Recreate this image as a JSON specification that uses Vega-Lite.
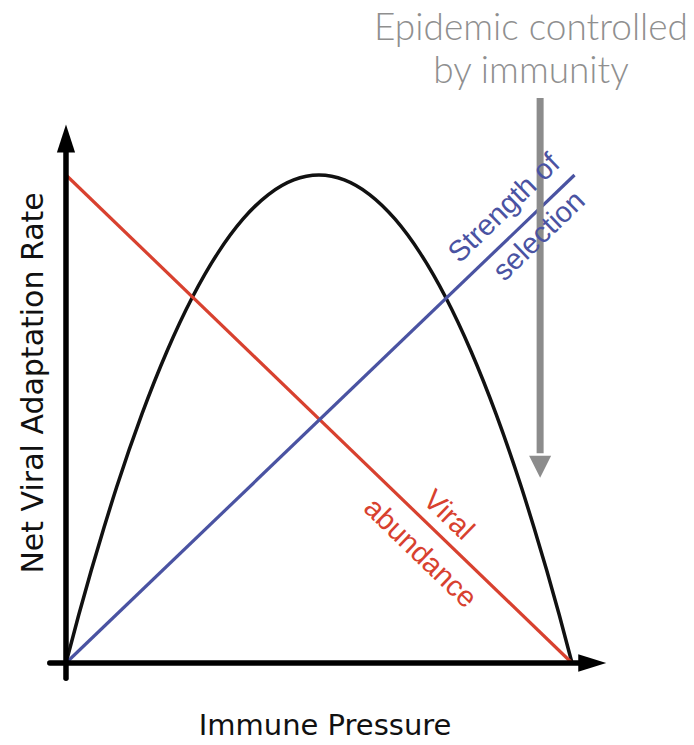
{
  "$schema": "https://vega.github.io/schema/vega-lite/v6.json",
  "width": 694,
  "height": 745,
  "autosize": "none",
  "padding": 0,
  "background": "white",
  "config": {"view": {"stroke": null}},
  "datasets": {
    "curves": [
      {"series": "abundance", "x": 0, "y": 100},
      {"series": "abundance", "x": 100, "y": 0},
      {"series": "selection", "x": 0, "y": 0},
      {"series": "selection", "x": 100.5, "y": 100},
      {"series": "rate", "x": 0, "y": 0},
      {"series": "rate", "x": 2.5, "y": 9.8},
      {"series": "rate", "x": 5, "y": 19},
      {"series": "rate", "x": 7.5, "y": 27.7},
      {"series": "rate", "x": 10, "y": 36},
      {"series": "rate", "x": 15, "y": 51},
      {"series": "rate", "x": 20, "y": 64},
      {"series": "rate", "x": 25, "y": 75},
      {"series": "rate", "x": 30, "y": 84},
      {"series": "rate", "x": 35, "y": 91},
      {"series": "rate", "x": 40, "y": 96},
      {"series": "rate", "x": 45, "y": 99},
      {"series": "rate", "x": 50, "y": 100},
      {"series": "rate", "x": 55, "y": 99},
      {"series": "rate", "x": 60, "y": 96},
      {"series": "rate", "x": 65, "y": 91},
      {"series": "rate", "x": 70, "y": 84},
      {"series": "rate", "x": 75, "y": 75},
      {"series": "rate", "x": 80, "y": 64},
      {"series": "rate", "x": 85, "y": 51},
      {"series": "rate", "x": 90, "y": 36},
      {"series": "rate", "x": 92.5, "y": 27.7},
      {"series": "rate", "x": 95, "y": 19},
      {"series": "rate", "x": 97.5, "y": 9.8},
      {"series": "rate", "x": 100, "y": 0}
    ],
    "axes": [
      {"axis": "y", "x": 0, "x2": 0, "y": -3.1, "y2": 106},
      {"axis": "x", "x": -3.2, "x2": 103, "y": 0, "y2": 0}
    ],
    "heads": [
      {"axis": "y", "x": 0, "y": 107.5},
      {"axis": "x", "x": 104, "y": 0}
    ],
    "control": [
      {"x": 93.7, "y": 115.8, "y2": 43}
    ],
    "controlHead": [
      {"x": 93.7, "y": 40.2}
    ],
    "titles": [
      {"label": "Net Viral Adaptation Rate", "x": -6.3, "y": 57.4},
      {"label": "Immune Pressure", "x": 51.2, "y": -12.9}
    ],
    "note": [
      {"label": "Epidemic controlled", "x": 91.9, "y": 127.7},
      {"label": "by immunity", "x": 91.9, "y": 118.9}
    ],
    "blueLabels": [
      {"label": "Strength of", "x": 86.6, "y": 93.2},
      {"label": "selection", "x": 93.5, "y": 87.5}
    ],
    "redLabels": [
      {"label": "Viral", "x": 75.6, "y": 30.3},
      {"label": "abundance", "x": 70.0, "y": 22.5}
    ]
  },
  "encoding": {
    "x": {"field": "x", "type": "quantitative", "scale": {"domain": [-13.04, 124.11], "nice": false, "zero": false}, "axis": null},
    "y": {"field": "y", "type": "quantitative", "scale": {"domain": [-16.8, 135.86], "nice": false, "zero": false}, "axis": null}
  },
  "layer": [
    {
      "data": {"name": "curves"},
      "transform": [{"filter": "datum.series === 'rate'"}],
      "mark": {"type": "line", "color": "#111111", "strokeWidth": 3.5, "interpolate": "monotone"},
      "encoding": {"order": {"field": "x", "type": "quantitative"}}
    },
    {
      "data": {"name": "curves"},
      "transform": [{"filter": "datum.series === 'abundance'"}],
      "mark": {"type": "line", "color": "#d8412f", "strokeWidth": 3.2},
      "encoding": {}
    },
    {
      "data": {"name": "curves"},
      "transform": [{"filter": "datum.series === 'selection'"}],
      "mark": {"type": "line", "color": "#4a53a2", "strokeWidth": 3.2},
      "encoding": {}
    },
    {
      "data": {"name": "axes"},
      "mark": {"type": "rule", "color": "#000000", "strokeWidth": 5.5, "strokeCap": "round"},
      "encoding": {
        "x2": {"field": "x2"},
        "y2": {"field": "y2"}
      }
    },
    {
      "data": {"name": "heads"},
      "transform": [{"filter": "datum.axis === 'y'"}],
      "mark": {"type": "point", "shape": "M0,-1L-0.65,1L0.65,1Z", "size": 784, "filled": true, "color": "#000000", "opacity": 1},
      "encoding": {}
    },
    {
      "data": {"name": "heads"},
      "transform": [{"filter": "datum.axis === 'x'"}],
      "mark": {"type": "point", "shape": "M1,0L-1,-0.62L-1,0.62Z", "size": 784, "filled": true, "color": "#000000", "opacity": 1},
      "encoding": {}
    },
    {
      "data": {"name": "control"},
      "mark": {"type": "rule", "color": "#8c8c8c", "strokeWidth": 7},
      "encoding": {"y2": {"field": "y2"}}
    },
    {
      "data": {"name": "controlHead"},
      "mark": {"type": "point", "shape": "M-1,-1L1,-1L0,1Z", "size": 484, "filled": true, "color": "#8c8c8c", "opacity": 1},
      "encoding": {}
    },
    {
      "data": {"name": "titles"},
      "transform": [{"filter": "datum.label === 'Net Viral Adaptation Rate'"}],
      "mark": {"type": "text", "font": "DejaVu Sans", "fontSize": 30, "color": "#111111", "angle": 270, "align": "center", "baseline": "middle"},
      "encoding": {"text": {"field": "label"}}
    },
    {
      "data": {"name": "titles"},
      "transform": [{"filter": "datum.label === 'Immune Pressure'"}],
      "mark": {"type": "text", "font": "DejaVu Sans", "fontSize": 29, "color": "#111111", "align": "center", "baseline": "middle"},
      "encoding": {"text": {"field": "label"}}
    },
    {
      "data": {"name": "note"},
      "mark": {"type": "text", "font": "Lato", "fontSize": 37, "fontWeight": 300, "color": "#8f8f8f", "align": "center", "baseline": "alphabetic"},
      "encoding": {"text": {"field": "label"}}
    },
    {
      "data": {"name": "blueLabels"},
      "mark": {"type": "text", "font": "Liberation Sans", "fontSize": 29, "color": "#4a53a2", "angle": 316, "align": "center", "baseline": "middle"},
      "encoding": {"text": {"field": "label"}}
    },
    {
      "data": {"name": "redLabels"},
      "mark": {"type": "text", "font": "Liberation Sans", "fontSize": 29, "color": "#d8412f", "angle": 44, "align": "center", "baseline": "middle"},
      "encoding": {"text": {"field": "label"}}
    }
  ]
}
